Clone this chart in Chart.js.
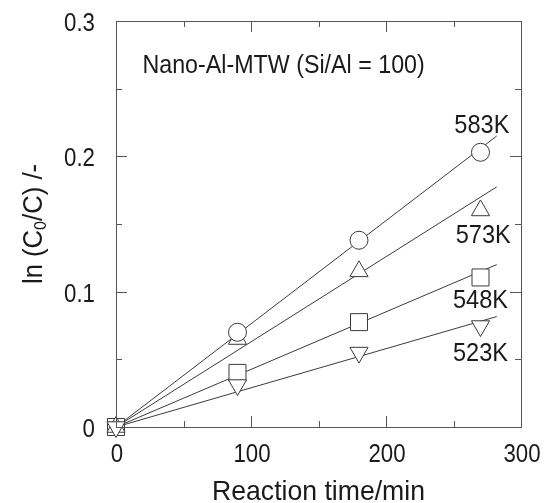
<!DOCTYPE html>
<html>
<head>
<meta charset="utf-8">
<title>ln(C0/C) vs reaction time</title>
<script src="https://cdn.jsdelivr.net/npm/chart.js@4.4.1/dist/chart.umd.min.js"></script>
<style>
  html, body { margin: 0; padding: 0; background: #fff; }
  #wrap { width: 544px; height: 503px; }
</style>
</head>
<body>
<div id="wrap"><canvas id="chart"></canvas></div>
<script>
/* ── Data ───────────────────────────────────────────────────── */

const times = [0, 90, 180, 270];
const times583 = [90, 180, 270];          // no circle drawn at t = 0
const k583 = [0.070, 0.138, 0.203];
const k573 = [0, 0.065, 0.115, 0.160];
const k548 = [0, 0.040, 0.0775, 0.1105];
const k523 = [0, 0.031, 0.055, 0.0746];

// linear fits through the origin
const fitTimes = [0, 282];
const fit583 = [0, 0.215];
const fit573 = [0, 0.1774];
const fit548 = [0, 0.120];
const fit523 = [0, 0.0816];

const tempLabels = ['583K', '573K', '548K', '523K'];
const tempLabelX = [271, 272, 270, 270];
const tempLabelY = [0.2172, 0.1356, 0.0882, 0.0489];

const xTickLabels = [0, 100, 200, 300];
const yTickLabels = [0, 0.1, 0.2, 0.3];
const xMinorTicks = [50, 150, 250];
const yMinorTicks = [0.05, 0.15, 0.25];

const sampleLabel = 'Nano-Al-MTW (Si/Al = 100)';
const xTitle = 'Reaction time/min';

/* ── Helpers ────────────────────────────────────────────────── */

const FONT = '"Liberation Sans", Arial, sans-serif';
const INK = '#1a1a1a';
const LINE = '#3a3a3a';

function pts(xs, ys) {
    return xs.map((x, i) => ({ x: x, y: ys[i] }));
}

function markerSet(label, xs, ys, style, radius, rotation, order) {
    return {
        type: 'scatter',
        label: label,
        data: pts(xs, ys),
        pointStyle: style,
        pointRadius: radius,
        pointRotation: rotation,
        pointBackgroundColor: '#fff',
        pointBorderColor: LINE,
        pointBorderWidth: 1,
        showLine: false,
        clip: false,
        order: order
    };
}

function fitSet(ys) {
    return {
        type: 'line',
        data: pts(fitTimes, ys),
        borderColor: LINE,
        borderWidth: 1,
        pointRadius: 0,
        fill: false,
        clip: false,
        order: 10
    };
}

// narrow-looking text: the original uses a condensed face we don't have
function text(ctx, str, x, y, size, squeeze, align) {
    ctx.save();
    ctx.translate(x, y);
    ctx.scale(squeeze, 1);
    ctx.font = size + 'px ' + FONT;
    ctx.textAlign = align;
    ctx.textBaseline = 'alphabetic';
    ctx.fillText(str, 0, 0);
    ctx.restore();
}

/* ── Frame, inward ticks and text ───────────────────────────── */

const framePlugin = {
    id: 'frame',
    afterDatasetsDraw(chart) {
        const { ctx, chartArea: a, scales } = chart;
        const sx = scales.x, sy = scales.y;
        ctx.save();
        ctx.strokeStyle = '#555';
        ctx.lineWidth = 1;
        ctx.strokeRect(a.left + 0.5, a.top + 0.5, a.right - a.left, a.bottom - a.top);

        ctx.beginPath();
        const tickX = (v, len) => {
            const px = Math.round(sx.getPixelForValue(v)) + 0.5;
            ctx.moveTo(px, a.bottom); ctx.lineTo(px, a.bottom - len);
            ctx.moveTo(px, a.top); ctx.lineTo(px, a.top + len);
        };
        const tickY = (v, len) => {
            const py = Math.round(sy.getPixelForValue(v)) + 0.5;
            ctx.moveTo(a.left, py); ctx.lineTo(a.left + len, py);
            ctx.moveTo(a.right, py); ctx.lineTo(a.right - len, py);
        };
        xTickLabels.forEach(v => tickX(v, 11));
        xMinorTicks.forEach(v => tickX(v, 6));
        yTickLabels.forEach(v => tickY(v, 11));
        yMinorTicks.forEach(v => tickY(v, 6));
        ctx.stroke();

        ctx.fillStyle = INK;

        // tick labels
        xTickLabels.forEach(v => text(ctx, String(v), sx.getPixelForValue(v) + 1, a.bottom + 35, 26.5, 0.84, 'center'));
        yTickLabels.forEach(v => text(ctx, String(v), a.left - 21, sy.getPixelForValue(v) + 10, 26.5, 0.84, 'right'));

        // axis titles
        text(ctx, xTitle, (a.left + a.right) / 2, 500, 28, 0.95, 'center');

        ctx.save();
        ctx.translate(41.5, (a.top + a.bottom) / 2);
        ctx.rotate(-Math.PI / 2);
        ctx.scale(0.95, 1);
        const big = '27px ' + FONT, small = '17px ' + FONT;
        ctx.font = big;
        const w1 = ctx.measureText('ln (C').width;
        const w3 = ctx.measureText('/C) /-').width;
        ctx.font = small;
        const w2 = ctx.measureText('0').width;
        let x0 = -(w1 + w2 + w3) / 2;
        ctx.textBaseline = 'alphabetic';
        ctx.textAlign = 'left';
        ctx.font = big;
        ctx.fillText('ln (C', x0, 0);
        ctx.font = small;
        ctx.fillText('0', x0 + w1, 4);
        ctx.font = big;
        ctx.fillText('/C) /-', x0 + w1 + w2, 0);
        ctx.restore();

        // temperature labels and sample name
        tempLabels.forEach((t, i) => {
            text(ctx, t, sx.getPixelForValue(tempLabelX[i]), sy.getPixelForValue(tempLabelY[i]), 26.5, 0.89, 'center');
        });
        text(ctx, sampleLabel, sx.getPixelForValue(19.6), sy.getPixelForValue(0.2616), 25, 0.93, 'left');
        ctx.restore();
    }
};

/* ── Chart ──────────────────────────────────────────────────── */

const hidePad = s => { s.paddingTop = 0; s.paddingBottom = 0; s.paddingLeft = 0; s.paddingRight = 0; };

new Chart(document.getElementById('chart'), {
    type: 'scatter',
    data: {
        datasets: [
            fitSet(fit583), fitSet(fit573), fitSet(fit548), fitSet(fit523),
            markerSet('548K', times, k548, 'rect', 12, 0, 4),
            markerSet('573K', times, k573, 'triangle', 10.5, 0, 3),
            markerSet('583K', times583, k583, 'circle', 9, 0, 2),
            markerSet('523K', times, k523, 'triangle', 10.5, 180, 1)
        ]
    },
    options: {
        responsive: true,
        maintainAspectRatio: false,
        animation: false,
        events: [],
        layout: { padding: { top: 21, right: 23, left: 0, bottom: 0 } },
        plugins: {
            legend: { display: false },
            tooltip: { enabled: false }
        },
        scales: {
            x: {
                type: 'linear',
                min: 0, max: 300,
                afterFit: s => { s.height = 76; hidePad(s); },
                ticks: { display: false },
                grid: { display: false, drawTicks: false },
                border: { display: false }
            },
            y: {
                type: 'linear',
                min: 0, max: 0.3,
                afterFit: s => { s.width = 116; hidePad(s); },
                ticks: { display: false },
                grid: { display: false, drawTicks: false },
                border: { display: false }
            }
        }
    },
    plugins: [framePlugin]
});
</script>
</body>
</html>
